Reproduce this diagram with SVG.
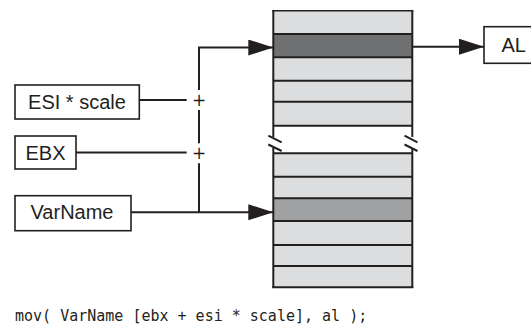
<svg xmlns="http://www.w3.org/2000/svg" width="531" height="326" viewBox="0 0 531 326">
<style>
.box{fill:#fff;stroke:#231f20;stroke-width:1.6}
.lbl{font-family:"Liberation Sans",Arial,sans-serif;font-size:20px;fill:#231f20}
.ln{stroke:#231f20;stroke-width:2;fill:none}
.sep{stroke:#231f20;stroke-width:2}
.light{fill:#dcdddf}
.dark{fill:#6f7071}
.mid{fill:#a0a1a2}
.plus{font-family:"DejaVu Sans",sans-serif;font-size:17px;fill:#231f20;text-anchor:middle}
.code{font-family:"DejaVu Sans Mono","Liberation Mono",monospace;font-size:15px;fill:#231f20}
</style>
<defs>
<marker id="ah" markerUnits="userSpaceOnUse" markerWidth="26" markerHeight="17" refX="25" refY="8" orient="auto">
<path d="M0,0 L25,8 L0,16 Z" fill="#231f20"/>
</marker>
</defs>

<g id="memory">
<rect class="light" x="273.3" y="10.7" width="139" height="23.3"/>
<rect class="dark" x="273.3" y="34" width="139" height="23.3"/>
<rect class="light" x="273.3" y="57.3" width="139" height="23.4"/>
<rect class="light" x="273.3" y="80.7" width="139" height="21"/>
<rect class="light" x="273.3" y="101.7" width="139" height="24"/>
<rect class="light" x="273.3" y="153.3" width="139" height="23.4"/>
<rect class="light" x="273.3" y="176.7" width="139" height="21.6"/>
<rect class="mid" x="273.3" y="198.3" width="139" height="22.7"/>
<rect class="light" x="273.3" y="221" width="139" height="24"/>
<rect class="light" x="273.3" y="245" width="139" height="21"/>
<rect class="light" x="273.3" y="266" width="139" height="21.3"/>
<g class="sep">
<line x1="272.3" y1="10.7" x2="413.3" y2="10.7" stroke-width="1.4"/>
<line x1="273.3" y1="34" x2="412.3" y2="34"/>
<line x1="273.3" y1="57.3" x2="412.3" y2="57.3"/>
<line x1="273.3" y1="80.7" x2="412.3" y2="80.7"/>
<line x1="273.3" y1="101.7" x2="412.3" y2="101.7"/>
<line x1="273.3" y1="125.7" x2="412.3" y2="125.7"/>
<line x1="273.3" y1="153.3" x2="412.3" y2="153.3"/>
<line x1="273.3" y1="176.7" x2="412.3" y2="176.7"/>
<line x1="273.3" y1="198.3" x2="412.3" y2="198.3"/>
<line x1="273.3" y1="221" x2="412.3" y2="221"/>
<line x1="273.3" y1="245" x2="412.3" y2="245"/>
<line x1="273.3" y1="266" x2="412.3" y2="266"/>
<line x1="272.3" y1="287.3" x2="413.3" y2="287.3"/>
<line x1="273.3" y1="10" x2="273.3" y2="137"/>
<line x1="273.3" y1="148" x2="273.3" y2="288"/>
<line x1="412.3" y1="10" x2="412.3" y2="137"/>
<line x1="412.3" y1="148" x2="412.3" y2="288"/>
<line x1="268.3" y1="135.7" x2="281.7" y2="142.3"/>
<line x1="268.3" y1="144.5" x2="281.7" y2="151"/>
<line x1="404.5" y1="135.7" x2="417.5" y2="142.3"/>
<line x1="404.5" y1="144.5" x2="417.5" y2="151"/>
</g>
</g>

<g id="esi_scale">
<rect class="box" x="15" y="85" width="124.3" height="34"/>
<text class="lbl" x="77" y="109.3" text-anchor="middle">ESI * scale</text>
</g>
<g id="ebx">
<rect class="box" x="15" y="136" width="61" height="33"/>
<text class="lbl" x="45.5" y="160.3" text-anchor="middle">EBX</text>
</g>
<g id="varname">
<rect class="box" x="15" y="195.7" width="116" height="35"/>
<text class="lbl" x="72" y="219" text-anchor="middle">VarName</text>
</g>
<g id="al">
<rect class="box" x="484" y="26.7" width="52" height="36.6"/>
<text class="lbl" x="501.5" y="51.5">AL</text>
</g>

<g id="connectors">
<line class="ln" x1="139.3" y1="100" x2="186.7" y2="100"/>
<line class="ln" x1="76" y1="152.5" x2="186.7" y2="152.5"/>
<text class="plus" x="199" y="106">+</text>
<text class="plus" x="199" y="158.5">+</text>
<polyline class="ln" points="199,90 199,47.5 273.3,47.5" marker-end="url(#ah)"/>
<line class="ln" x1="199" y1="110" x2="199" y2="143.3"/>
<line class="ln" x1="199" y1="163.3" x2="199" y2="212.3"/>
<line class="ln" x1="131" y1="212.3" x2="273.3" y2="212.3" marker-end="url(#ah)"/>
<line class="ln" x1="412.3" y1="46.7" x2="484" y2="46.7" marker-end="url(#ah)"/>
</g>

<text class="code" x="15" y="321">mov( VarName [ebx + esi * scale], al );</text>
</svg>
